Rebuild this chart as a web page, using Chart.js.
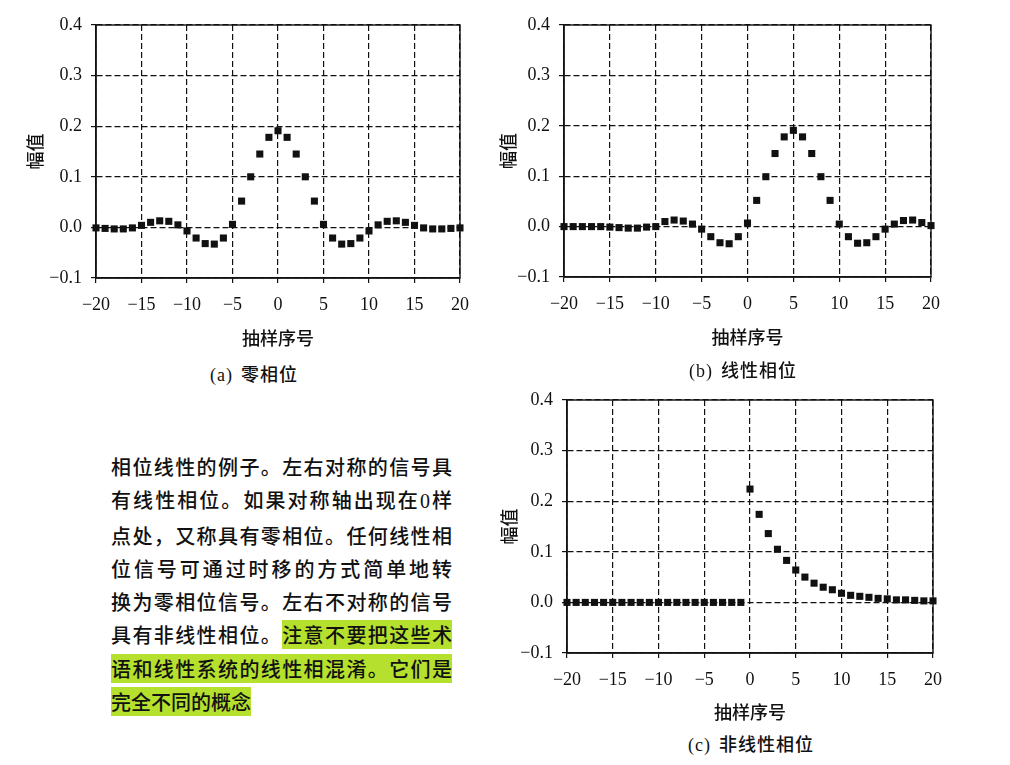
<!DOCTYPE html>
<html lang="zh-CN">
<head>
<meta charset="utf-8">
<title>相位线性</title>
<script src="https://cdn.jsdelivr.net/npm/chart.js@4.4.1/dist/chart.umd.min.js"></script>
<style>
  html, body { margin: 0; padding: 0; background: #fff; }
  body { width: 1010px; height: 765px; position: relative; overflow: hidden; }
  canvas { position: absolute; }
  .caption {
    position: absolute; transform: translateX(-50%); white-space: nowrap;
    font: 500 18px "Noto Sans CJK SC", sans-serif; letter-spacing: 1px; color: #111;
  }
  .caption .tag { font-family: "Liberation Serif", serif; font-weight: normal; margin-right: 8px; }
  #note {
    position: absolute; left: 111px; top: 450px; width: 341px;
    font: 500 20px/33.3px "Noto Sans CJK SC", sans-serif; color: #111;
  }
  #note div { text-align: justify; text-align-last: justify; white-space: nowrap; }
  #note div.last { text-align-last: left; }
  #note .hl { background: #b5e02e; }
  #note .num { font-family: "Liberation Serif", serif; }
</style>
</head>
<body>
<canvas id="chartA" style="left:0;top:0;width:480px;height:352px"></canvas>
<canvas id="chartB" style="left:480px;top:0;width:480px;height:352px"></canvas>
<canvas id="chartC" style="left:480px;top:375px;width:480px;height:355px"></canvas>

<div class="caption" style="left:254px;top:360px"><span class="tag">(a)</span>零相位</div>
<div class="caption" style="left:743px;top:356px"><span class="tag">(b)</span>线性相位</div>
<div class="caption" style="left:751px;top:730px"><span class="tag">(c)</span>非线性相位</div>

<div id="note">
  <div>相位线性的例子。左右对称的信号具</div>
  <div>有线性相位。如果对称轴出现在<span class="num">0</span>样</div>
  <div>点处，又称具有零相位。任何线性相</div>
  <div>位信号可通过时移的方式简单地转</div>
  <div>换为零相位信号。左右不对称的信号</div>
  <div>具有非线性相位。<span class="hl">注意不要把这些术</span></div>
  <div><span class="hl">语和线性系统的线性相混淆。它们是</span></div>
  <div class="last"><span class="hl">完全不同的概念</span></div>
</div>

<script>
// 抽样序号
const sampleIndex = [-20, -19, -18, -17, -16, -15, -14, -13, -12, -11, -10, -9, -8, -7, -6, -5, -4, -3, -2, -1,
  0, 1, 2, 3, 4, 5, 6, 7, 8, 9, 10, 11, 12, 13, 14, 15, 16, 17, 18, 19, 20];

// (a) 零相位
const zeroPhase = [-0.001, -0.002, -0.003, -0.003, -0.001, 0.004, 0.010, 0.013, 0.012, 0.005, -0.007,
  -0.021, -0.032, -0.033, -0.021, 0.006, 0.052, 0.100, 0.145, 0.178, 0.191,
  0.178, 0.145, 0.100, 0.052, 0.006, -0.021, -0.033, -0.032, -0.021, -0.007,
  0.005, 0.012, 0.013, 0.010, 0.004, -0.001, -0.003, -0.003, -0.002, -0.001];

// (b) 线性相位
const linearPhase = [0.000, 0.000, 0.000, 0.000, 0.000, -0.001, -0.002, -0.003, -0.003, -0.001, 0.000,
  0.010, 0.013, 0.011, 0.005, -0.005, -0.020, -0.032, -0.034, -0.020, 0.007,
  0.052, 0.099, 0.145, 0.178, 0.191, 0.178, 0.145, 0.099, 0.052, 0.005,
  -0.020, -0.033, -0.032, -0.020, -0.005, 0.005, 0.012, 0.013, 0.008, 0.002];

// (c) 非线性相位
const nonlinearPhase = [0, 0, 0, 0, 0, 0, 0, 0, 0, 0, 0, 0, 0, 0, 0, 0, 0, 0, 0, 0,
  0.224, 0.174, 0.136, 0.105, 0.083, 0.064, 0.050, 0.038, 0.030, 0.025, 0.018,
  0.014, 0.012, 0.010, 0.008, 0.007, 0.005, 0.005, 0.004, 0.003, 0.003];

const xTickStep = 5;
const yTickStep = 0.1;
const yMin = -0.1, yMax = 0.4;
const xMin = -20, xMax = 20;

const serifFont = { family: '"Liberation Serif", "Times New Roman", serif', size: 18 };
const cjkFont = { family: '"Noto Sans CJK SC", sans-serif', size: 18, weight: '500' };

// 负号用 "−"
function fmt(v, digits) {
  const s = Math.abs(v) < 1e-9 ? (0).toFixed(digits) : v.toFixed(digits);
  return s.replace('-', '\u2212');
}

// 画外框（上、右两边为实线）
const framePlugin = {
  id: 'frame',
  afterDraw(chart) {
    const { ctx, chartArea: a } = chart;
    ctx.save();
    ctx.strokeStyle = '#111';
    ctx.lineWidth = 1.4;
    ctx.setLineDash([]);
    ctx.strokeRect(a.left, a.top, a.right - a.left, a.bottom - a.top);
    ctx.restore();
  }
};

function makeChart(id, values, g) {
  const ctx = document.getElementById(id).getContext('2d');
  return new Chart(ctx, {
    type: 'scatter',
    data: {
      datasets: [{
        data: sampleIndex.map((n, i) => ({ x: n, y: values[i] })),
        pointStyle: 'rect',
        pointRadius: 5,
        pointHoverRadius: 5,
        backgroundColor: '#111',
        borderColor: '#111',
        borderWidth: 0,
        clip: false
      }]
    },
    options: {
      responsive: false,
      animation: false,
      layout: { padding: { left: 0, top: g.top, right: g.right, bottom: 0 } },
      plugins: { legend: { display: false }, tooltip: { enabled: false } },
      scales: {
        x: {
          type: 'linear',
          min: xMin,
          max: xMax,
          afterFit(scale) { scale.height = g.xHeight; },
          ticks: {
            stepSize: xTickStep,
            padding: 11,
            color: '#111',
            font: serifFont,
            maxRotation: 0,
            callback: v => fmt(v, 0)
          },
          grid: { color: '#111', lineWidth: 1.2, tickLength: 5, tickColor: '#111' },
          border: { color: '#111', width: 1.5, dash: [6, 3] },
          title: {
            display: true,
            text: '抽样序号',
            color: '#111',
            font: cjkFont,
            padding: { top: 0, bottom: g.xTitlePad }
          }
        },
        y: {
          min: yMin,
          max: yMax,
          afterFit(scale) { scale.width = g.yWidth; },
          ticks: {
            stepSize: yTickStep,
            padding: 9,
            color: '#111',
            font: serifFont,
            callback: v => fmt(v, 1)
          },
          grid: { color: '#111', lineWidth: 1.2, tickLength: 5, tickColor: '#111' },
          border: { color: '#111', width: 1.5, dash: [6, 3] },
          title: {
            display: true,
            text: '幅值',
            color: '#111',
            font: cjkFont,
            padding: { top: g.yTitlePad, bottom: 0 }
          }
        }
      }
    },
    plugins: [framePlugin]
  });
}

document.addEventListener('DOMContentLoaded', function () {
  for (const c of document.querySelectorAll('canvas')) {
    c.width = parseInt(c.style.width);
    c.height = parseInt(c.style.height);
  }
  makeChart('chartA', zeroPhase, { top: 25, right: 19, xHeight: 74, xTitlePad: 3, yWidth: 96, yTitlePad: 24 });
  makeChart('chartB', linearPhase, { top: 25, right: 29, xHeight: 75, xTitlePad: 4, yWidth: 84, yTitlePad: 17 });
  makeChart('chartC', nonlinearPhase, { top: 25, right: 27, xHeight: 77, xTitlePad: 7, yWidth: 87, yTitlePad: 18 });
});
</script>
</body>
</html>
